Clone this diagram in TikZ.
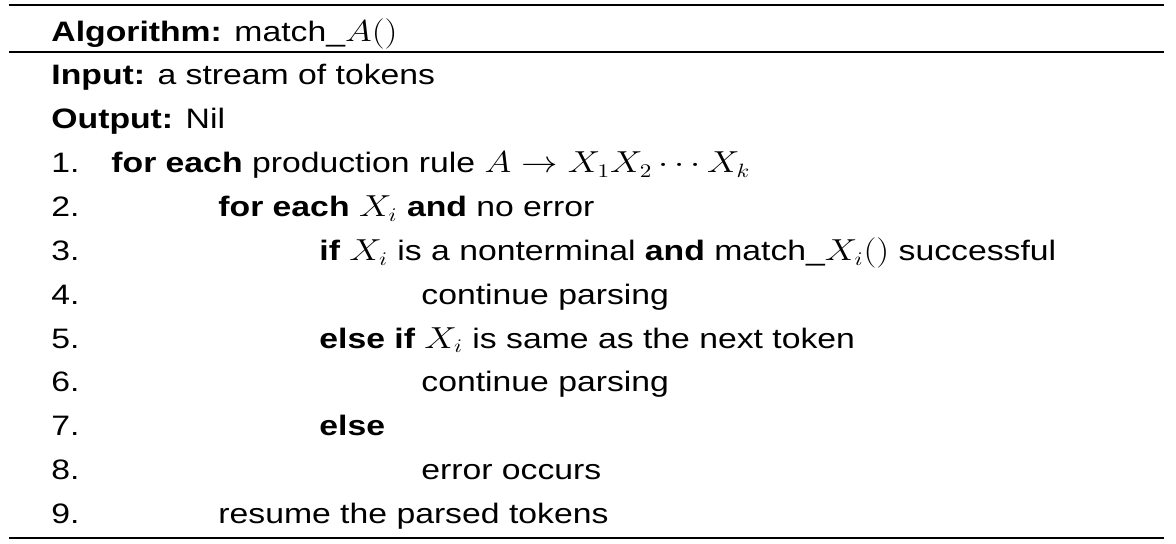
\documentclass[tikz,border=0pt]{standalone}
\usepackage{fontspec}
\setmainfont{Liberation Sans}
\usepackage{amsmath}
\usetikzlibrary{positioning}

\tikzset{
  line/.style={anchor=base west, inner sep=0pt, xscale=1.2, transform shape,
    font=\fontsize{16}{19}\selectfont},
  rulebar/.style={line width=1.6pt}
}

\begin{document}
\begin{tikzpicture}[x=0.02cm, y=-0.02cm]
    \useasboundingbox (0,0) rectangle (1176,544);
    % rules
    \coordinate (tl) at (9,5);   \coordinate (tr) at (1164,5);
    \coordinate (ml) at (9,52);  \coordinate (mr) at (1164,52);
    \coordinate (bl) at (9,538); \coordinate (br) at (1164,538);
    \draw[rulebar] (tl) -- (tr);
    \draw[line width=1.4pt] (ml) -- (mr);
    \draw[rulebar] (bl) -- (br);
    % header
    \node[line] (alg) at (51,42) {\textbf{Algorithm:} match\_$A()$};
    \node[line] (inp) at (51,85) {\textbf{Input:} a stream of tokens};
    \node[line] (outp) at (51,129) {\textbf{Output:} Nil};
    % numbered lines
    \foreach \n in {1,...,9}
      \node[line] (num\n) at (51,{173+43.75*(\n-1)}) {\n.};
    \node[line] (s1) at (111,173) {\textbf{for each} production rule $A\rightarrow X_1X_2\cdots X_k$};
    \node[line] (s2) at (218,216.75) {\textbf{for each} $X_i$ \textbf{and} no error};
    \node[line] (s3) at (319,260.5) {\textbf{if} $X_i$ is a nonterminal \textbf{and} match\_$X_i()$ successful};
    \node[line] (s4) at (421,304.25) {continue parsing};
    \node[line] (s5) at (319,348) {\textbf{else if} $X_i$ is same as the next token};
    \node[line] (s6) at (421,391.75) {continue parsing};
    \node[line] (s7) at (319,435.5) {\textbf{else}};
    \node[line] (s8) at (421,479.25) {error occurs};
    \node[line] (s9) at (218,523) {resume the parsed tokens};
\end{tikzpicture}
\end{document}
